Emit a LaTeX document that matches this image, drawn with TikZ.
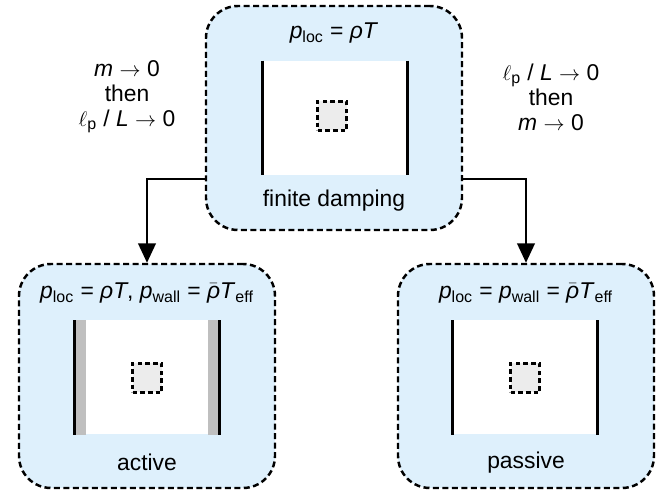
\documentclass[tikz,border=0pt]{standalone}
\usepackage{fontspec}
\setmainfont{Liberation Sans}
\usetikzlibrary{arrows.meta,positioning}
\definecolor{boxblue}{RGB}{222,240,252}
\newcommand\lowsub[1]{\textsubscript{#1}}
\newcommand\rhobar{\ensuremath{\bar{\mbox{\textit{ρ}}}}}

\begin{document}
\begin{tikzpicture}[font=\fontsize{13}{14.2}\selectfont,
  panel/.style={draw,rounded corners=0.64cm,dash pattern=on 3.4pt off 2pt,line width=1.4pt,fill=boxblue,minimum width=5.12cm,minimum height=4.48cm,inner sep=0pt},
  inner/.style={fill=white,minimum width=2.9cm,minimum height=2.28cm,inner sep=0pt},
  probe/.style={draw,dash pattern=on 2.6pt off 1.8pt,line width=1.3pt,fill=gray!15,minimum size=0.58cm,inner sep=0pt},
  wall/.style={line width=1.7pt},
  link/.style={-{Triangle[length=11pt,width=10pt]},line width=1.1pt}]
\useasboundingbox (0,0) rectangle (13.24,9.84);
\node[panel] (fin) at (6.68,7.48) {};
\node[panel] (act) at (2.94,2.32) {};
\node[panel] (pas) at (10.52,2.32) {};
\node[inner] (finin) at (6.7,7.48) {};
\node[inner] (actin) at (2.94,2.29) {};
\node[inner] (pasin) at (10.5,2.29) {};
\fill[gray!50] (actin.north west) rectangle ([xshift=0.23cm]actin.south west);
\fill[gray!50] (actin.north east) rectangle ([xshift=-0.23cm]actin.south east);
\draw[wall] (finin.north west) -- (finin.south west);
\draw[wall] (finin.north east) -- (finin.south east);
\draw[wall] (actin.north west) -- (actin.south west);
\draw[wall] (actin.north east) -- (actin.south east);
\draw[wall] (pasin.north west) -- (pasin.south west);
\draw[wall] (pasin.north east) -- (pasin.south east);
\node[probe] (finprobe) at (6.64,7.52) {};
\node[probe] (actprobe) at (2.94,2.28) {};
\node[probe] (pasprobe) at (10.5,2.28) {};
\node (finlbl) at ([yshift=-0.56cm]fin.north) {\textit{p}\lowsub{loc} = \textit{ρT}};
\node (actlbl) at ([yshift=-0.6cm]act.north) {\textit{p}\lowsub{loc} = \textit{ρT}, \textit{p}\lowsub{wall} = \rhobar\textit{T}\lowsub{eff}};
\node (paslbl) at ([yshift=-0.6cm]pas.north) {\textit{p}\lowsub{loc} = \textit{p}\lowsub{wall} = \rhobar\textit{T}\lowsub{eff}};
\node (finname) at ([yshift=0.62cm]fin.south) {finite damping};
\node (actname) at ([yshift=0.54cm]act.south) {active};
\node (pasname) at ([yshift=0.54cm]pas.south) {passive};
\node[align=center] (leftcond) at (2.54,7.9) {\textit{m} $\rightarrow$ 0\\then\\$\ell$\lowsub{p} / \textit{L} $\rightarrow$ 0};
\node[align=center] (rightcond) at (11.02,7.9) {$\ell$\lowsub{p} / \textit{L} $\rightarrow$ 0\\then\\\textit{m} $\rightarrow$ 0};
\draw[link] ([yshift=-1.22cm]fin.west) -| (act.north);
\draw[link] ([yshift=-1.22cm]fin.east) -| (pas.north);
\end{tikzpicture}
\end{document}
